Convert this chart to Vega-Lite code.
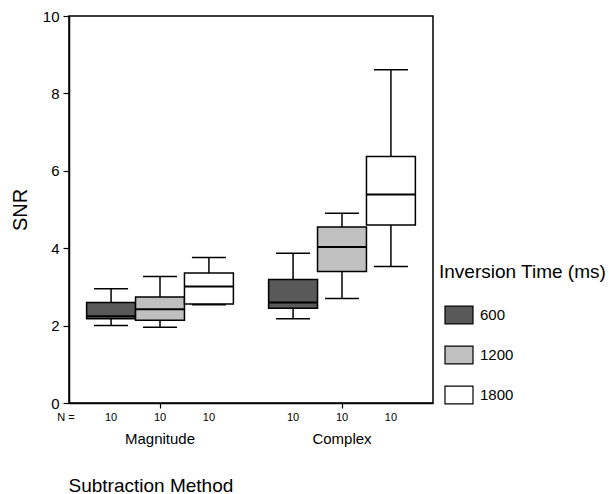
{
  "$schema": "https://vega.github.io/schema/vega-lite/v6.json",
  "width": 364,
  "height": 387,
  "autosize": {"type": "none"},
  "padding": {"left": 69, "top": 16, "right": 180, "bottom": 91},
  "config": {
    "font": "Liberation Sans",
    "view": {"stroke": "black", "strokeWidth": 1.5},
    "text": {"color": "black", "fill": "black"},
    "axis": {"domainColor": "black", "domainWidth": 1.5, "tickColor": "black", "tickWidth": 1.2, "labelColor": "black", "titleColor": "black", "titleFontWeight": "normal", "grid": false}
  },
  "data": {
    "values": [
      {"group": "Magnitude", "time": "600", "lower": 2.00, "q1": 2.18, "median": 2.24, "q3": 2.60, "upper": 2.95, "n": "10"},
      {"group": "Magnitude", "time": "1200", "lower": 1.96, "q1": 2.14, "median": 2.42, "q3": 2.74, "upper": 3.27, "n": "10"},
      {"group": "Magnitude", "time": "1800", "lower": 2.54, "q1": 2.56, "median": 3.01, "q3": 3.36, "upper": 3.76, "n": "10"},
      {"group": "Complex", "time": "600", "lower": 2.18, "q1": 2.45, "median": 2.60, "q3": 3.19, "upper": 3.87, "n": "10"},
      {"group": "Complex", "time": "1200", "lower": 2.70, "q1": 3.40, "median": 4.03, "q3": 4.55, "upper": 4.90, "n": "10"},
      {"group": "Complex", "time": "1800", "lower": 3.53, "q1": 4.60, "median": 5.39, "q3": 6.37, "upper": 8.61, "n": "10"}
    ]
  },
  "encoding": {
    "x": {
      "field": "group", "type": "nominal", "sort": ["Magnitude", "Complex"],
      "scale": {"paddingInner": 0, "paddingOuter": 0},
      "axis": {
        "title": "Subtraction Method", "titleFontSize": 19, "titleAnchor": "start", "titleAlign": "left",
        "titleX": -1, "titleY": 88, "titleBaseline": "alphabetic",
        "labelFontSize": 15, "labelPadding": 23, "tickSize": 5, "labelAngle": 0
      }
    },
    "xOffset": {
      "field": "time", "type": "nominal", "sort": ["600", "1200", "1800"],
      "scale": {"paddingInner": 0, "paddingOuter": 0.36}
    },
    "y": {
      "type": "quantitative",
      "scale": {"domain": [0, 10], "nice": false, "zero": true},
      "axis": {"title": "SNR", "titleFontSize": 20, "titlePadding": 12, "values": [0, 2, 4, 6, 8, 10], "labelFontSize": 15, "tickSize": 6, "labelPadding": 4}
    }
  },
  "layer": [
    {
      "mark": {"type": "rule", "color": "black", "strokeWidth": 1.5},
      "encoding": {"y": {"field": "lower", "type": "quantitative"}, "y2": {"field": "upper"}}
    },
    {
      "mark": {"type": "tick", "color": "black", "size": 34, "thickness": 1.5, "opacity": 1},
      "encoding": {"y": {"field": "lower", "type": "quantitative"}}
    },
    {
      "mark": {"type": "tick", "color": "black", "size": 34, "thickness": 1.5, "opacity": 1},
      "encoding": {"y": {"field": "upper", "type": "quantitative"}}
    },
    {
      "mark": {"type": "bar", "stroke": "black", "strokeWidth": 1.5, "opacity": 1},
      "encoding": {
        "y": {"field": "q1", "type": "quantitative"},
        "y2": {"field": "q3"},
        "color": {
          "field": "time", "type": "nominal",
          "scale": {"domain": ["600", "1200", "1800"], "range": ["#595959", "#c0c0c0", "#ffffff"]},
          "legend": {
            "title": "Inversion Time (ms)", "orient": "none", "legendX": 370, "legendY": 247,
            "padding": 0, "titleFontSize": 19, "titleFontWeight": "normal", "titleColor": "black", "titlePadding": 18,
            "symbolType": "M-1,-0.63H1V0.63H-1Z", "symbolSize": 784, "symbolStrokeColor": "black", "symbolStrokeWidth": 1.2,
            "symbolOpacity": 1, "symbolOffset": 5, "labelFontSize": 15, "labelColor": "black", "labelOffset": 6, "rowPadding": 13
          }
        }
      }
    },
    {
      "mark": {"type": "tick", "color": "black", "size": 49, "thickness": 2, "opacity": 1},
      "encoding": {"y": {"field": "median", "type": "quantitative"}}
    },
    {
      "mark": {"type": "text", "fontSize": 11, "baseline": "middle", "dy": 15, "color": "black", "fill": "black", "opacity": 1},
      "encoding": {"y": {"datum": 0}, "text": {"field": "n"}, "color": {"value": "black"}}
    },
    {
      "data": {"values": [{"label": "N ="}]},
      "mark": {"type": "text", "fontSize": 11, "baseline": "middle", "dy": 15, "dx": -94, "fill": "black"},
      "encoding": {"x": {"datum": "Magnitude"}, "xOffset": {"datum": "1200"}, "y": {"datum": 0}, "text": {"field": "label"}}
    }
  ]
}
